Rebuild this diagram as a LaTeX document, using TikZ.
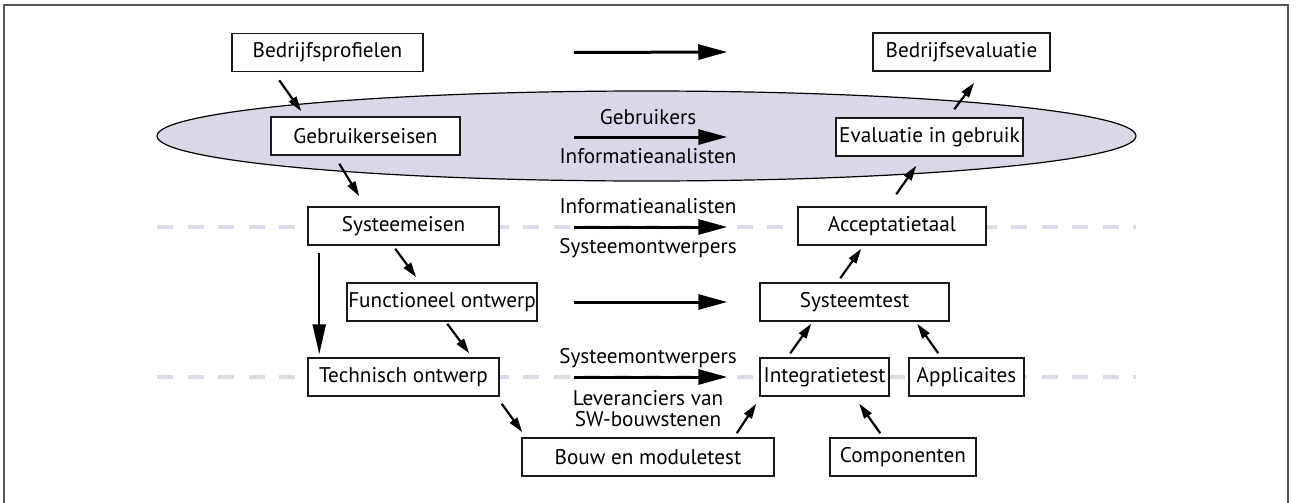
\documentclass[tikz,border=0pt]{standalone}
\usepackage{fontspec}
\setmainfont{PT Sans}
\usetikzlibrary{arrows.meta,calc}
\definecolor{lav}{RGB}{216,216,232}
\definecolor{dashc}{RGB}{218,218,234}
\definecolor{framec}{RGB}{85,85,85}
\begin{document}
\begin{tikzpicture}[x=0.5pt,y=-0.5pt,
  txt/.style={font=\fontsize{10.6}{12}\selectfont},
  box/.style={txt, draw=black!90, line width=0.75pt, fill=white, inner sep=0pt, minimum height=19pt},
  lbl/.style={txt, inner sep=0pt, anchor=base},
  sarr/.style={line width=1.1pt, -{Triangle[length=7.5pt,width=4.4pt]}},
  harr/.style={line width=1.5pt, -{Triangle[length=14.5pt,width=7.5pt]}},
  varr/.style={line width=1.2pt, -{Triangle[length=15pt,width=6.5pt]}},
  dl/.style={draw=dashc, line width=1.6pt, dash pattern=on 8pt off 7.25pt}]
\useasboundingbox (0,0) rectangle (1296,503);
\draw[framec, line width=1pt] (4,504) -- (4,5) -- (1288,5) -- (1288,504);
\draw[black, line width=0.6pt, fill=lav] (646.5,136) ellipse [x radius=244.75pt, y radius=22.5pt];
\draw[dl] (157,227) -- (1136,227);
\draw[dl] (157,377) -- (1136,377);
% boxes
\node[box, minimum width=95.5pt] (bp) at (327.5,52.5) {Bedrijfsprofielen};
\node[box, minimum width=88.5pt] (be) at (961.5,52) {Bedrijfsevaluatie};
\node[box, minimum width=94.5pt] (ge) at (365.5,136) {Gebruikerseisen};
\node[box, minimum width=93.5pt] (eg) at (929.5,137) {Evaluatie in gebruik};
\node[box, minimum width=95.5pt] (se) at (403.5,226) {Systeemeisen};
\node[box, minimum width=94pt] (at) at (892,226) {Acceptatietaal};
\node[box, minimum width=95pt] (fo) at (442,302) {Functioneel ontwerp};
\node[box, minimum width=94.5pt] (st) at (854.5,302) {Systeemtest};
\node[box, minimum width=95.5pt] (to) at (403.5,377) {Technisch ontwerp};
\node[box, minimum width=64.5pt] (it) at (824.5,377) {Integratietest};
\node[box, minimum width=57.5pt] (ap) at (966.5,377) {Applicaites};
\node[box, minimum width=126pt] (bm) at (648,457) {Bouw en moduletest};
\node[box, minimum width=73pt] (co) at (903,457) {Componenten};
% labels
\node[lbl] (l1) at (648,124) {Gebruikers};
\node[lbl] (l2) at (648,163) {Informatieanalisten};
\node[lbl] (l3) at (648,213) {Informatieanalisten};
\node[lbl] (l4) at (648,253) {Systeemontwerpers};
\node[lbl] (l5) at (648,363) {Systeemontwerpers};
\node[txt, inner sep=0pt, anchor=north, align=center, font=\fontsize{10.6}{10.4}\selectfont] (l6) at (648,390) {Leveranciers van\\SW-bouwstenen};
% horizontal arrows
\draw[harr] ($(bp.east)+(150,0)$) -- ($(be.west)+(-145,0)$);
\draw[harr] ($(ge.east)+(113,1)$) -- ($(eg.west)+(-108,0)$);
\draw[harr] ($(se.east)+(74,1)$) -- ($(at.west)+(-70,1)$);
\draw[harr] ($(fo.east)+(36,0)$) -- ($(st.west)+(-32,0)$);
\draw[harr] ($(to.east)+(74,0)$) -- ($(it.west)+(-32,0)$);
% diagonal arrows
\draw[sarr] ($(bp.south west)+(48,8)$) -- ($(ge.north west)+(31,-5)$);
\draw[sarr] ($(ge.south west)+(69,8)$) -- ($(se.north west)+(52,-10)$);
\draw[sarr] ($(se.south west)+(88,3)$) -- ($(fo.north west)+(70,-5)$);
\draw[varr] ($(se.south west)+(12,7)$) -- ($(to.north west)+(12,-3)$);
\draw[sarr] ($(fo.south west)+(101,2)$) -- ($(to.north west)+(162,-4)$);
\draw[sarr] ($(to.south east)+(2,7)$) -- ($(bm.north west)+(1,-5)$);
\draw[sarr] ($(bm.north east)+(-38,-4)$) -- ($(it.south west)+(-3,7)$);
\draw[sarr] ($(co.north west)+(51,-4)$) -- ($(it.south west)+(100,7)$);
\draw[sarr] ($(it.north west)+(31,-4)$) -- ($(st.south west)+(52,2)$);
\draw[sarr] ($(ap.north west)+(30,-4)$) -- ($(st.south west)+(158,2)$);
\draw[sarr] ($(st.north west)+(81,-4)$) -- ($(at.south west)+(64,3)$);
\draw[sarr] ($(at.north west)+(99,-12)$) -- ($(eg.south west)+(81,9)$);
\draw[sarr] ($(eg.north west)+(119,-8)$) -- ($(be.south west)+(102,11)$);
\end{tikzpicture}
\end{document}
